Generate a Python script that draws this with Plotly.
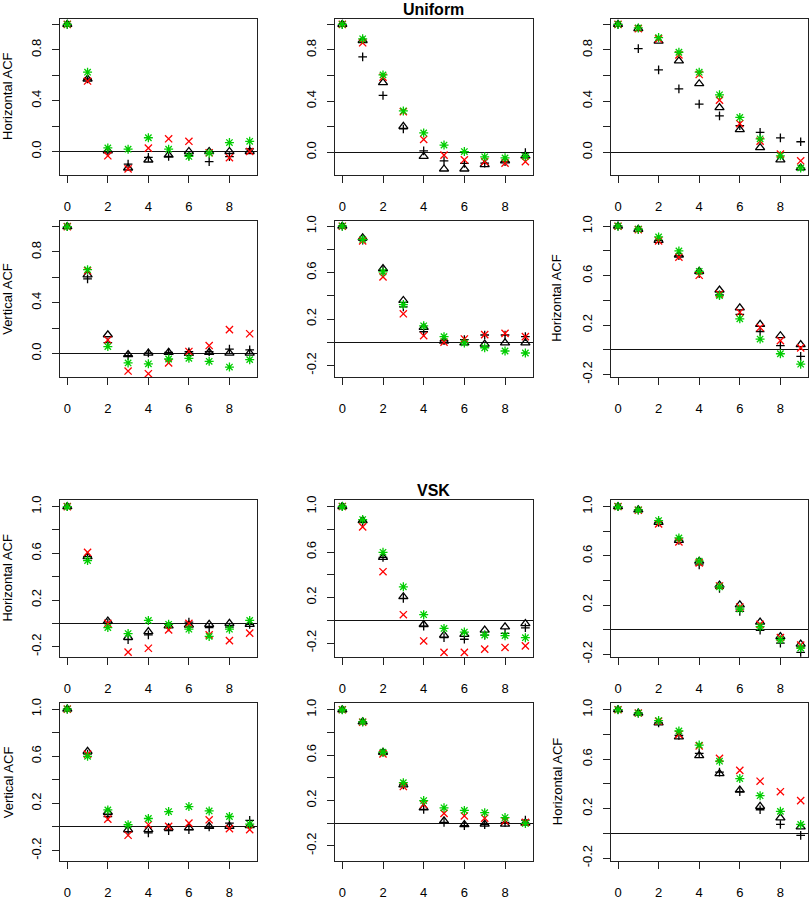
import plotly.graph_objects as go

lags = list(range(10))
x_tickvals = [0, 2, 4, 6, 8]
x_ticktext = ["0", "2", "4", "6", "8"]

group_titles = ["Uniform", "VSK"]
ylabels = ["Horizontal ACF", "", "", "Vertical ACF", "", "Horizontal ACF",
           "Horizontal ACF", "", "", "Vertical ACF", "", "Horizontal ACF"]

# ---- Panel data (row-major). plus = black +, tri = black triangle, xr = red x, star = green asterisk
p1_plus = [1, 0.57, 0.0, -0.10, -0.046, -0.039, -0.03, -0.08, -0.04, 0.02]
p1_tri = [1, 0.57, 0.005, -0.13, -0.067, -0.028, 0.0, 0.0, 0.0, 0.0]
p1_xr = [1, 0.554, -0.034, -0.137, 0.026, 0.10, 0.08, -0.01, -0.049, 0.0]
p1_star = [1, 0.624, 0.028, 0.018, 0.108, 0.018, -0.039, -0.013, 0.07, 0.08]

p2_plus = [1, 0.746, 0.444, 0.182, 0.01, -0.067, -0.087, -0.085, -0.074, -0.003]
p2_tri = [1, 0.874, 0.544, 0.203, -0.033, -0.131, -0.131, -0.097, -0.067, -0.028]
p2_xr = [1, 0.856, 0.587, 0.318, 0.10, -0.023, -0.059, -0.074, -0.085, -0.074]
p2_star = [1, 0.887, 0.605, 0.323, 0.151, 0.056, 0.005, -0.036, -0.044, -0.033]

p3_plus = [1, 0.81, 0.644, 0.495, 0.377, 0.285, 0.208, 0.156, 0.113, 0.082]
p3_tri = [1, 0.967, 0.869, 0.715, 0.536, 0.349, 0.177, 0.036, -0.059, -0.123]
p3_xr = [1, 0.967, 0.887, 0.762, 0.608, 0.408, 0.223, 0.087, -0.015, -0.067]
p3_star = [1, 0.972, 0.897, 0.782, 0.626, 0.449, 0.272, 0.105, -0.028, -0.123]

p4_plus = [1, 0.588, 0.085, -0.018, 0.003, 0.008, 0.013, 0.013, 0.034, 0.028]
p4_tri = [1, 0.62, 0.147, -0.01, 0.003, 0.008, 0.0, 0.008, 0.003, 0.003]
p4_xr = [1, 0.652, 0.106, -0.139, -0.16, -0.075, 0.015, 0.062, 0.188, 0.155]
p4_star = [1, 0.66, 0.054, -0.075, -0.082, -0.044, -0.039, -0.062, -0.108, -0.049]

p5_plus = [1, 0.88, 0.62, 0.304, 0.09, 0.014, 0.023, 0.062, 0.062, 0.048]
p5_tri = [1, 0.90, 0.634, 0.36, 0.127, 0.01, -0.006, -0.017, -0.006, -0.006]
p5_xr = [1, 0.873, 0.563, 0.245, 0.056, 0.0, 0.028, 0.065, 0.076, 0.048]
p5_star = [1, 0.887, 0.606, 0.324, 0.141, 0.048, -0.006, -0.048, -0.076, -0.093]

p6_plus = [1, 0.974, 0.886, 0.762, 0.616, 0.444, 0.286, 0.148, 0.034, -0.053]
p6_tri = [1, 0.974, 0.886, 0.767, 0.635, 0.484, 0.339, 0.206, 0.114, 0.042]
p6_xr = [1, 0.972, 0.881, 0.749, 0.603, 0.452, 0.304, 0.18, 0.074, 0.016]
p6_star = [1, 0.976, 0.913, 0.80, 0.635, 0.439, 0.251, 0.087, -0.032, -0.116]

p7_plus = [1, 0.571, 0.0, -0.14, -0.098, -0.031, 0.011, -0.036, -0.031, -0.008]
p7_tri = [1, 0.571, 0.02, -0.12, -0.07, -0.022, -0.014, -0.008, 0.0, -0.008]
p7_xr = [1, 0.608, 0.0, -0.246, -0.213, -0.056, 0.0, -0.098, -0.148, -0.084]
p7_star = [1, 0.538, -0.036, -0.087, 0.025, -0.008, -0.05, -0.112, -0.05, 0.025]

p8_plus = [1, 0.87, 0.553, 0.193, -0.052, -0.153, -0.167, -0.13, -0.115, -0.066]
p8_tri = [1, 0.876, 0.553, 0.207, -0.037, -0.13, -0.124, -0.086, -0.058, -0.029]
p8_xr = [1, 0.821, 0.427, 0.049, -0.182, -0.282, -0.282, -0.254, -0.239, -0.225]
p8_star = [1, 0.885, 0.597, 0.294, 0.049, -0.072, -0.104, -0.13, -0.135, -0.153]

p9_plus = [1, 0.973, 0.872, 0.726, 0.527, 0.335, 0.149, -0.005, -0.109, -0.184]
p9_tri = [1, 0.973, 0.872, 0.726, 0.556, 0.362, 0.202, 0.061, -0.056, -0.117]
p9_xr = [1, 0.97, 0.859, 0.713, 0.543, 0.355, 0.184, 0.043, -0.064, -0.125]
p9_star = [1, 0.973, 0.886, 0.745, 0.556, 0.348, 0.168, 0.024, -0.082, -0.149]

p10_plus = [1, 0.618, 0.089, -0.042, -0.05, -0.031, -0.022, 0.0, 0.033, 0.056]
p10_tri = [1, 0.641, 0.125, -0.022, -0.022, -0.008, -0.008, 0.006, 0.006, 0.011]
p10_xr = [1, 0.618, 0.067, -0.07, 0.019, 0.006, 0.033, 0.061, -0.014, -0.022]
p10_star = [1, 0.599, 0.145, 0.019, 0.072, 0.131, 0.173, 0.136, 0.089, 0.025]

p11_plus = [1, 0.893, 0.625, 0.337, 0.121, 0.006, -0.023, -0.014, 0.006, 0.026]
p11_tri = [1, 0.893, 0.625, 0.337, 0.135, 0.02, -0.014, -0.009, -0.009, 0.0]
p11_xr = [1, 0.89, 0.611, 0.323, 0.164, 0.086, 0.063, 0.043, 0.02, 0.006]
p11_star = [1, 0.893, 0.625, 0.357, 0.199, 0.135, 0.112, 0.092, 0.049, -0.003]

p12_plus = [1, 0.973, 0.894, 0.793, 0.647, 0.496, 0.337, 0.191, 0.072, -0.016]
p12_tri = [1, 0.973, 0.894, 0.78, 0.629, 0.483, 0.35, 0.218, 0.125, 0.053]
p12_xr = [1, 0.973, 0.907, 0.801, 0.708, 0.607, 0.509, 0.422, 0.337, 0.265]
p12_star = [1, 0.973, 0.912, 0.828, 0.714, 0.584, 0.443, 0.305, 0.178, 0.072]

panels = [
    (p1_plus, p1_tri, p1_xr, p1_star), (p2_plus, p2_tri, p2_xr, p2_star),
    (p3_plus, p3_tri, p3_xr, p3_star), (p4_plus, p4_tri, p4_xr, p4_star),
    (p5_plus, p5_tri, p5_xr, p5_star), (p6_plus, p6_tri, p6_xr, p6_star),
    (p7_plus, p7_tri, p7_xr, p7_star), (p8_plus, p8_tri, p8_xr, p8_star),
    (p9_plus, p9_tri, p9_xr, p9_star), (p10_plus, p10_tri, p10_xr, p10_star),
    (p11_plus, p11_tri, p11_xr, p11_star), (p12_plus, p12_tri, p12_xr, p12_star),
]

# ---- layout geometry (pixels)
W, H = 809, 900
col_px = [(60, 257), (335, 532.7), (610.7, 808)]
row_px = [(14, 173), (219.3, 378.3), (503.3, 663.3), (710, 870.7)]
y_ranges = [(-0.186, 1.044), (-0.179, 1.044), (-0.179, 1.044),
            (-0.186, 1.047), (-0.30, 1.048), (-0.22, 1.045),
            (-0.29, 1.057), (-0.325, 1.058), (-0.224, 1.054),
            (-0.29, 1.05), (-0.336, 1.058), (-0.225, 1.053)]
label_sets = ["even", "even", "even", "even", "odd", "odd",
              "odd", "odd", "odd", "odd", "odd", "odd"]

FONT = "Liberation Sans, Arial, Helvetica, sans-serif"
FS = 13

styles = [
    dict(symbol="cross-thin-open", size=6.2, color="black"),
    dict(symbol="triangle-up-open", size=8, color="black"),
    dict(symbol="x-thin-open", size=7.2, color="#FF0000"),
    dict(symbol="asterisk-open", size=7.5, color="#00CD00"),
]

fig = go.Figure()
layout = dict(width=W, height=H, margin=dict(l=0, r=0, t=0, b=0),
              paper_bgcolor="white", plot_bgcolor="white", showlegend=False,
              font=dict(family=FONT, size=FS, color="black"))
annotations = []

for i, series in enumerate(panels):
    r, c = divmod(i, 3)
    k = i + 1
    xs = "x" if k == 1 else f"x{k}"
    ys = "y" if k == 1 else f"y{k}"
    for vals, st in zip(series, styles):
        fig.add_trace(go.Scatter(
            x=lags, y=vals, mode="markers", xaxis=xs, yaxis=ys, cliponaxis=False,
            marker=dict(symbol=st["symbol"], size=st["size"], color=st["color"],
                        line=dict(width=1.3, color=st["color"])),
            hoverinfo="skip"))
    x0, x1 = col_px[c]
    t, b = row_px[r]
    lo, hi = y_ranges[i]
    # ticks every 0.2, labels on alternating ones
    tv, tt = [], []
    for j in range(-2, 6):
        v = round(j * 0.2, 1)
        if lo <= v <= hi:
            tv.append(v)
            lab = f"{v:.1f}"
            if label_sets[i] == "even":
                tt.append(lab if j % 2 == 0 else "")
            else:
                tt.append(lab if j % 2 != 0 else "")
    axcommon = dict(showline=True, mirror=True, linecolor="#222", linewidth=1,
                    ticks="outside", ticklen=7, tickwidth=1, tickcolor="#222",
                    showgrid=False, tickfont=dict(family=FONT, size=FS, color="black"),
                    fixedrange=True)
    layout["xaxis" if k == 1 else f"xaxis{k}"] = dict(
        domain=[x0 / W, x1 / W], range=[-0.36, 9.36], anchor=ys,
        tickmode="array", tickvals=x_tickvals, ticktext=x_ticktext,
        zeroline=False, ticklabelstandoff=12, **axcommon)
    layout["yaxis" if k == 1 else f"yaxis{k}"] = dict(
        domain=[1 - b / H, 1 - t / H], range=[lo, hi], anchor=xs,
        tickmode="array", tickvals=tv, ticktext=tt, tickangle=-90,
        zeroline=True, zerolinecolor="#111", zerolinewidth=1,
        ticklabelstandoff=6, **axcommon)
    if ylabels[i]:
        lx = 8 if c == 0 else 557
        annotations.append(dict(
            text=ylabels[i], x=lx / W, y=1 - (t + b) / 2 / H, xref="paper", yref="paper",
            textangle=-90, showarrow=False, xanchor="center", yanchor="middle",
            font=dict(family=FONT, size=FS, color="black")))

for g, ty in zip(group_titles, [4.5, 494]):
    annotations.append(dict(
        text=f"<b>{g}</b>", x=(col_px[1][0] + col_px[1][1]) / 2 / W, y=1 - ty / H,
        xref="paper", yref="paper", showarrow=False, xanchor="center", yanchor="middle",
        font=dict(family=FONT, size=16, color="black")))

layout["annotations"] = annotations
fig.update_layout(**layout)
fig.write_html("out.html", config={"displayModeBar": False},
               post_script="document.body.style.margin='0px';document.body.style.overflow='hidden';")
